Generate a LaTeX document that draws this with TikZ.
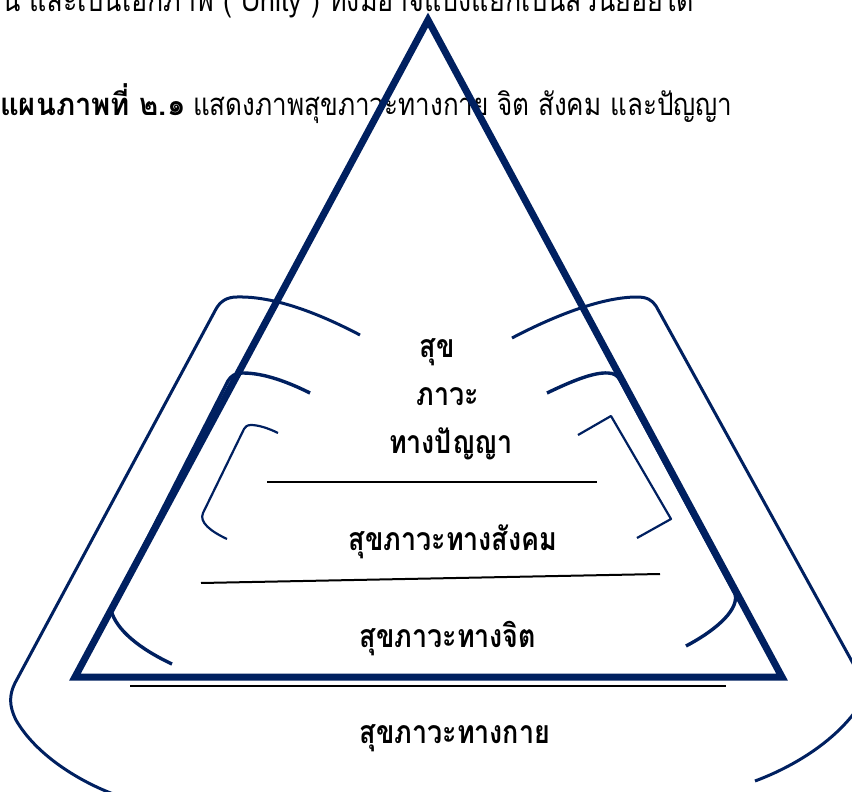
\documentclass[tikz,border=0pt]{standalone}
\usepackage{fontspec}
\newfontfamily\thai[Script=Thai]{Loma}
\definecolor{navy}{RGB}{0,32,96}
\newcommand{\sqz}[2]{\scalebox{#1}[1]{#2}}
\tikzset{
  tri/.style={draw=navy, line width=7pt, line join=miter},
  brkA/.style={draw=navy, line width=3pt},
  brkB/.style={draw=navy, line width=3.4pt},
  brkC/.style={draw=navy, line width=2.2pt},
  sepline/.style={draw=black, line width=2pt},
  lbl/.style={anchor=base, inner sep=0pt, font=\thai\bfseries\fontsize{32}{36}\selectfont},
  captxt/.style={anchor=base west, inner sep=0pt, font=\thai\fontsize{31}{35}\selectfont},
}
\begin{document}
\begin{tikzpicture}[x=1pt,y=-1pt]
\useasboundingbox (0,0) rectangle (852,792);
\clip (0,0) rectangle (852,792);
% texts
\node[captxt] (top) at (2,12) {\sqz{0.865}{น และเป็นเอกภาพ ( Unity ) ทั้งมิอาจแบ่งแยกเป็นส่วนย่อยได้}};
\node[captxt, font=\thai\bfseries\fontsize{31}{35}\selectfont] (capb) at (0,115) {\sqz{0.94}{แผนภาพที่ ๒.๑}};
\node[captxt] (capr) at (193,115) {\sqz{0.84}{แสดงภาพสุขภาวะทางกาย จิต สังคม และปัญญา}};
% triangle
\draw[tri] (428,20) -- (782,677) -- (75,677) -- cycle;
% outer bracket
\draw[brkA] (360,335) .. controls (320,314) and (275,296) .. (237,297)
  .. controls (226,297) and (220,302) .. (216,309) -- (15,683)
  .. controls (9,695) and (9,706) .. (16,720)
  .. controls (36,755) and (80,782) .. (116,795);
\draw[brkA] (512,338) .. controls (550,318) and (600,297) .. (637,297)
  .. controls (647,297) and (652,300) .. (656,306) -- (860,676)
  .. controls (866,690) and (864,700) .. (855,712)
  .. controls (830,745) and (790,768) .. (755,781);
% middle bracket
\draw[brkB] (310,393) .. controls (290,383) and (265,373) .. (243,373)
  .. controls (235,373) and (231,376) .. (228,381) -- (111,610)
  .. controls (116,630) and (140,649) .. (172,664);
\draw[brkB] (547,393) .. controls (570,382) and (593,372) .. (608,373)
  .. controls (614,373) and (618,376) .. (620,380) -- (735,594)
  .. controls (739,608) and (720,628) .. (686,646);
% inner bracket
\draw[brkC] (278,433) .. controls (268,428) and (258,425) .. (251,425)
  .. controls (247,425) and (245,427) .. (244,429) -- (203,513)
  .. controls (199,522) and (210,531) .. (227,539);
\draw[brkC, line join=round] (578,435) -- (611,416) -- (671,519) -- (637,538);
% separator lines
\draw[sepline] (267,482) -- (597,482);
\draw[sepline] (201,583) -- (660,574);
\draw[sepline] (130,686) -- (726,686);
% labels
\node[lbl] (l1) at (437,357) {\sqz{0.84}{สุข}};
\node[lbl] (l2) at (448,405) {\sqz{0.84}{ภาวะ}};
\node[lbl] (l3) at (451,453) {\sqz{0.84}{ทางปัญญา}};
\node[lbl] (l4) at (453,550) {\sqz{0.84}{สุขภาวะทางสังคม}};
\node[lbl] (l5) at (448,647) {\sqz{0.84}{สุขภาวะทางจิต}};
\node[lbl] (l6) at (455,743) {\sqz{0.84}{สุขภาวะทางกาย}};
\end{tikzpicture}
\end{document}
